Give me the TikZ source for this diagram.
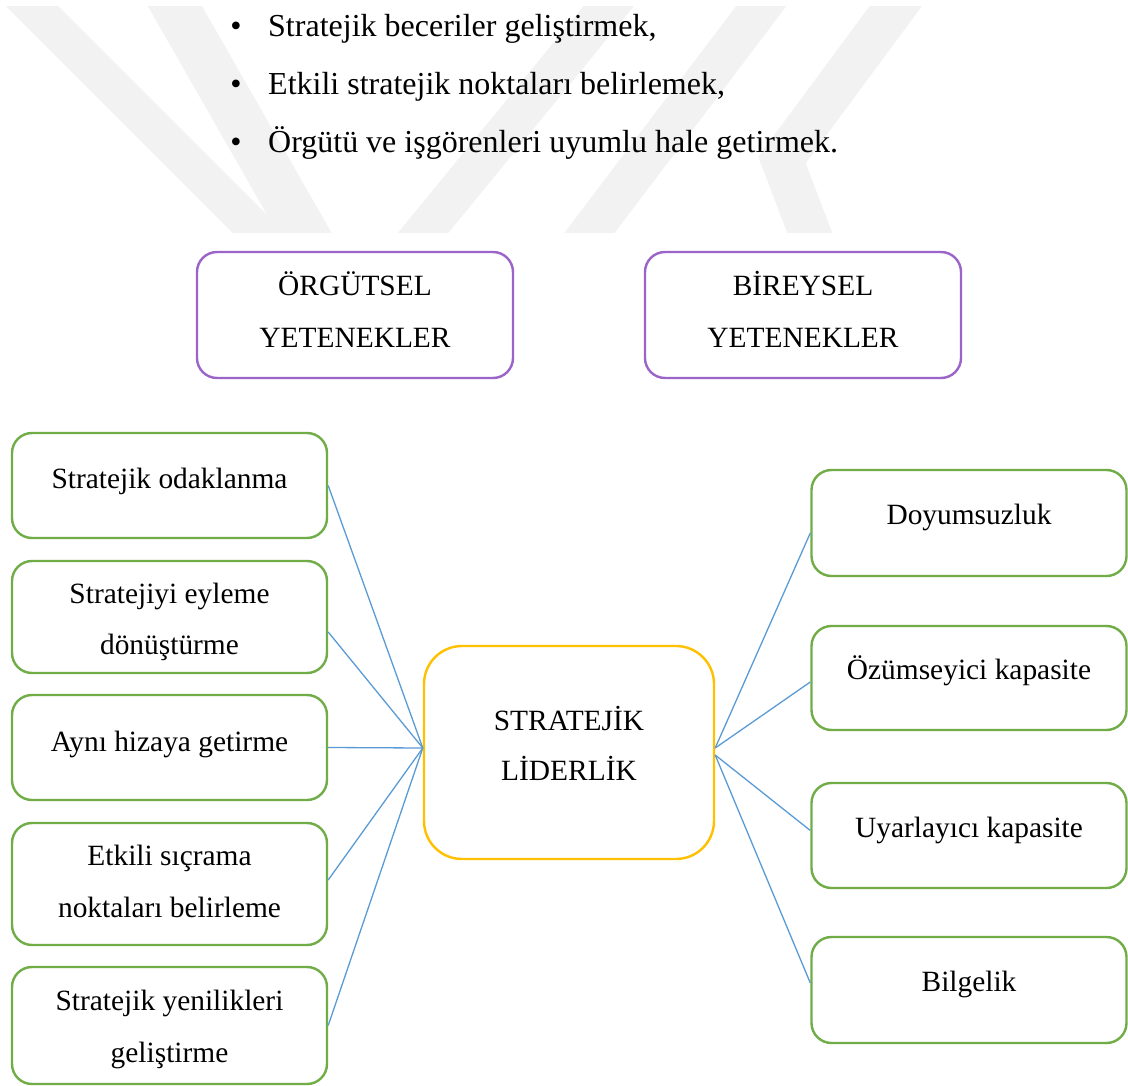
\documentclass[tikz,border=0pt]{standalone}
\usepackage{fontspec}
\setmainfont{Liberation Serif}
\definecolor{wmgray}{HTML}{F2F2F2}
\definecolor{boxpurple}{RGB}{155,100,200}
\definecolor{boxgreen}{HTML}{70AD47}
\definecolor{boxyellow}{HTML}{FFC000}
\definecolor{linkblue}{HTML}{5B9BD5}
\tikzset{
  wm/.style={draw=wmgray, line cap=butt, line join=miter},
  card/.style={draw, rounded corners=20pt, line width=2.4pt, inner sep=0pt},
  purplecard/.style={card, draw=boxpurple, minimum width=316pt, minimum height=126pt},
  greencard/.style={card, draw=boxgreen, minimum width=315pt},
  hubcard/.style={card, draw=boxyellow, rounded corners=38pt, minimum width=290pt, minimum height=213pt},
  lbl/.style={font=\fontsize{29.4}{35}\selectfont, inner sep=0pt, anchor=base},
  itemtxt/.style={font=\fontsize{32}{38}\selectfont, inner sep=0pt, anchor=base west},
  itemdot/.style={font=\fontsize{32}{38}\selectfont, inner sep=0pt, anchor=base},
  link/.style={draw=linkblue, line width=1.3pt}
}
\begin{document}
\begin{tikzpicture}[x=1pt,y=-1pt]
\useasboundingbox (0,0) rectangle (1128,1086);
\fill[white] (0,0) rectangle (1128,1086);

% faint background emblem behind the list
\begin{scope}
  \clip (0,7) rectangle (1128,233);
  \draw[wm, line width=37pt] (6,-20) -- (286,260);
  \draw[wm, line width=47pt] (160,-20) -- (320,260);
  \draw[wm, line width=39pt] (630,-20) -- (401,260);
  \draw[wm, line width=40pt] (781,-20) -- (569,260);
  \draw[wm, line width=42pt] (915,-20) -- (782,160) -- (820,260);
\end{scope}

% bulleted list
\node[itemdot] (d1) at (236,37) {•};
\node[itemtxt] (t1) at (268,37) {Stratejik beceriler geliştirmek,};
\node[itemdot] (d2) at (236,95) {•};
\node[itemtxt] (t2) at (268,95) {Etkili stratejik noktaları belirlemek,};
\node[itemdot] (d3) at (236,153) {•};
\node[itemtxt] (t3) at (268,153) {Örgütü ve işgörenleri uyumlu hale getirmek.};

% headings
\node[purplecard] (org) at (355,315) {};
\node[lbl] (orga) at (355,295) {ÖRGÜTSEL};
\node[lbl] (orgb) at (355,347) {YETENEKLER};
\node[purplecard] (bir) at (803,315) {};
\node[lbl] (bira) at (803,295) {BİREYSEL};
\node[lbl] (birb) at (803,347) {YETENEKLER};

% central node
\node[hubcard] (c) at (569,752.5) {};
\node[lbl] (ca) at (569,730) {STRATEJİK};
\node[lbl] (cb) at (569,780) {LİDERLİK};

% organisational capabilities
\node[greencard, minimum height=105pt] (l1) at (169.5,485.5) {};
\node[lbl] (l1a) at (169.5,488) {Stratejik odaklanma};
\node[greencard, minimum height=112pt] (l2) at (169.5,617) {};
\node[lbl] (l2a) at (169.5,603) {Stratejiyi eyleme};
\node[lbl] (l2b) at (169.5,654) {dönüştürme};
\node[greencard, minimum height=105pt] (l3) at (169.5,747.5) {};
\node[lbl] (l3a) at (169.5,751) {Aynı hizaya getirme};
\node[greencard, minimum height=122pt] (l4) at (169.5,884) {};
\node[lbl] (l4a) at (169.5,865) {Etkili sıçrama};
\node[lbl] (l4b) at (169.5,917) {noktaları belirleme};
\node[greencard, minimum height=117pt] (l5) at (169.5,1025.5) {};
\node[lbl] (l5a) at (169.5,1010) {Stratejik yenilikleri};
\node[lbl] (l5b) at (169.5,1062) {geliştirme};

% individual capabilities
\node[greencard, minimum height=106pt] (r1) at (969,523) {};
\node[lbl] (r1a) at (969,524) {Doyumsuzluk};
\node[greencard, minimum height=104pt] (r2) at (969,678) {};
\node[lbl] (r2a) at (969,679) {Özümseyici kapasite};
\node[greencard, minimum height=105pt] (r3) at (969,835.5) {};
\node[lbl] (r3a) at (969,837) {Uyarlayıcı kapasite};
\node[greencard, minimum height=106pt] (r4) at (969,990) {};
\node[lbl] (r4a) at (969,991) {Bilgelik};

% links to the central node
\coordinate (hubL) at ([yshift=4.5pt]c.west);
\coordinate (hubRa) at ([yshift=4.5pt]c.east);
\coordinate (hubRb) at ([yshift=-2.5pt]c.east);
\draw[link] (l1.east) -- (hubL);
\draw[link] ([yshift=-15pt]l2.east) -- (hubL);
\draw[link] (l3.east) -- (hubL);
\draw[link] ([yshift=4pt]l4.east) -- (hubL);
\draw[link] (l5.east) -- (hubL);
\draw[link] (hubRa) -- ([yshift=-10pt]r1.west);
\draw[link] (hubRa) -- ([yshift=-4pt]r2.west);
\draw[link] (hubRb) -- ([yshift=5pt]r3.west);
\draw[link] (hubRb) -- ([yshift=7pt]r4.west);
\end{tikzpicture}
\end{document}
